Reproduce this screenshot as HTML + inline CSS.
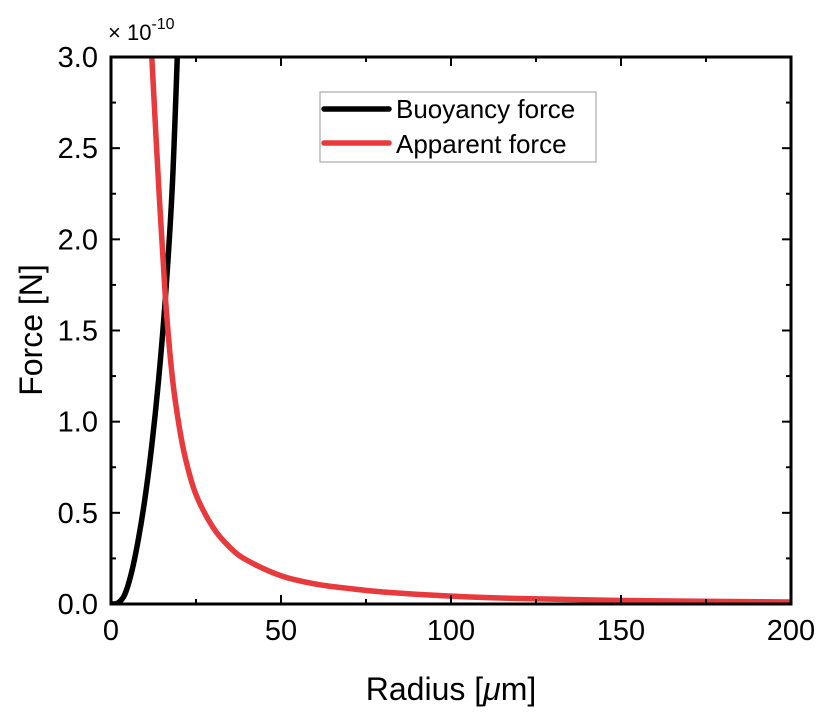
<!DOCTYPE html>
<html><head><meta charset="utf-8"><style>
body{margin:0;background:#fff;}
svg{display:block;font-family:"Liberation Sans",Arial,sans-serif;}
</style></head><body>
<svg id="chart" width="830" height="722">
</svg>
<script>
const xTicks=[0,50,100,150,200];
const yTicks=[0.0,0.5,1.0,1.5,2.0,2.5,3.0];
const buoyR=[0,2,4,6,8,10,12,14,16,18,19.5];
const buoyF=[0,0.005,0.05,0.17,0.35,0.58,0.87,1.23,1.68,2.28,3.0];
const appR=[12,14,16,18,20,22,25,30,35,40,50,60,70,80,100,120,150,200];
const appF=[3.0,2.3,1.68,1.25,0.98,0.79,0.6,0.42,0.31,0.24,0.155,0.11,0.085,0.066,0.043,0.030,0.019,0.011];
const L=111,R=791,T=57,B=604;
const sx=v=>L+(v-0)/200*(R-L);
const sy=v=>B-(v/3)*(B-T);
const svg=document.getElementById('chart');
const NS='http://www.w3.org/2000/svg';
function mk(tag,at,txt){const e=document.createElementNS(NS,tag);for(const k in at)e.setAttribute(k,at[k]);if(txt!==undefined)e.textContent=txt;svg.appendChild(e);return e;}
function pathD(xs,ys){
 const p=xs.map((x,i)=>[sx(x),sy(ys[i])]);
 let d='M'+p[0][0]+','+p[0][1];
 for(let i=0;i<p.length-1;i++){
  const p0=p[Math.max(0,i-1)],p1=p[i],p2=p[i+1],p3=p[Math.min(p.length-1,i+2)];
  const c1=[p1[0]+(p2[0]-p0[0])/6,p1[1]+(p2[1]-p0[1])/6];
  const c2=[p2[0]-(p3[0]-p1[0])/6,p2[1]-(p3[1]-p1[1])/6];
  d+=' C'+c1+' '+c2+' '+p2;
 }
 return d;
}
const defs=mk('defs',{});
const cp=document.createElementNS(NS,'clipPath');cp.setAttribute('id','clip');
const cr=document.createElementNS(NS,'rect');cr.setAttribute('x',L);cr.setAttribute('y',T);cr.setAttribute('width',R-L);cr.setAttribute('height',B-T);
cp.appendChild(cr);defs.appendChild(cp);
let e;
e=mk('path',{d:pathD(buoyR,buoyF),fill:'none',stroke:'#000','stroke-width':5.5,'clip-path':'url(#clip)'});


e=mk('path',{d:pathD(appR,appF),fill:'none',stroke:'#e8393d','stroke-width':5.5,'clip-path':'url(#clip)'});


xTicks.forEach((v,i)=>{
 const x=sx(v);
 mk('line',{x1:x,x2:x,y1:B,y2:B-9,stroke:'#000','stroke-width':2});
 mk('line',{x1:x,x2:x,y1:T,y2:T+9,stroke:'#000','stroke-width':2});
 if(i<xTicks.length-1){const m=sx(v+25);
  mk('line',{x1:m,x2:m,y1:B,y2:B-5,stroke:'#000','stroke-width':2});
  mk('line',{x1:m,x2:m,y1:T,y2:T+5,stroke:'#000','stroke-width':2});}
 e=mk('text',{x:x,y:B+36,'text-anchor':'middle','font-size':29},String(v));
 
 
});
yTicks.forEach((v,i)=>{
 const y=sy(v);
 mk('line',{x1:L,x2:L+9,y1:y,y2:y,stroke:'#000','stroke-width':2});
 mk('line',{x1:R,x2:R-9,y1:y,y2:y,stroke:'#000','stroke-width':2});
 if(i<yTicks.length-1){const m=sy(v+0.25);
  mk('line',{x1:L,x2:L+5,y1:m,y2:m,stroke:'#000','stroke-width':2});
  mk('line',{x1:R,x2:R-5,y1:m,y2:m,stroke:'#000','stroke-width':2});}
 e=mk('text',{x:L-13,y:y+10,'text-anchor':'end','font-size':29},v.toFixed(1));
 
 
});
e=mk('rect',{x:L,y:T,width:R-L,height:B-T,fill:'none',stroke:'#000','stroke-width':3});


</script>
<svg style="position:absolute;left:0;top:0" width="830" height="722">
<text x="108" y="40" font-size="22" font-family="Liberation Sans,sans-serif">× 10<tspan dy="-11" font-size="16">-10</tspan></text>
<g>
<rect x="320" y="92" width="276" height="70" fill="#fff" stroke="#999" stroke-width="1"/>
<line x1="324" y1="109" x2="389" y2="109" stroke="#000" stroke-width="5.5" stroke-linecap="round"/>
<text x="396" y="118" font-size="26" font-family="Liberation Sans,sans-serif">Buoyancy force</text>
<line x1="324" y1="143" x2="389" y2="143" stroke="#e8393d" stroke-width="5.5" stroke-linecap="round"/>
<text x="396" y="153" font-size="26" font-family="Liberation Sans,sans-serif">Apparent force</text>
</g>
<text x="451" y="700" text-anchor="middle" font-size="32" font-family="Liberation Sans,sans-serif">Radius [<tspan font-style="italic">μ</tspan>m]</text>
<text transform="translate(42,330) rotate(-90)" text-anchor="middle" font-size="32" font-family="Liberation Sans,sans-serif">Force [N]</text>
</svg>
</body></html>
